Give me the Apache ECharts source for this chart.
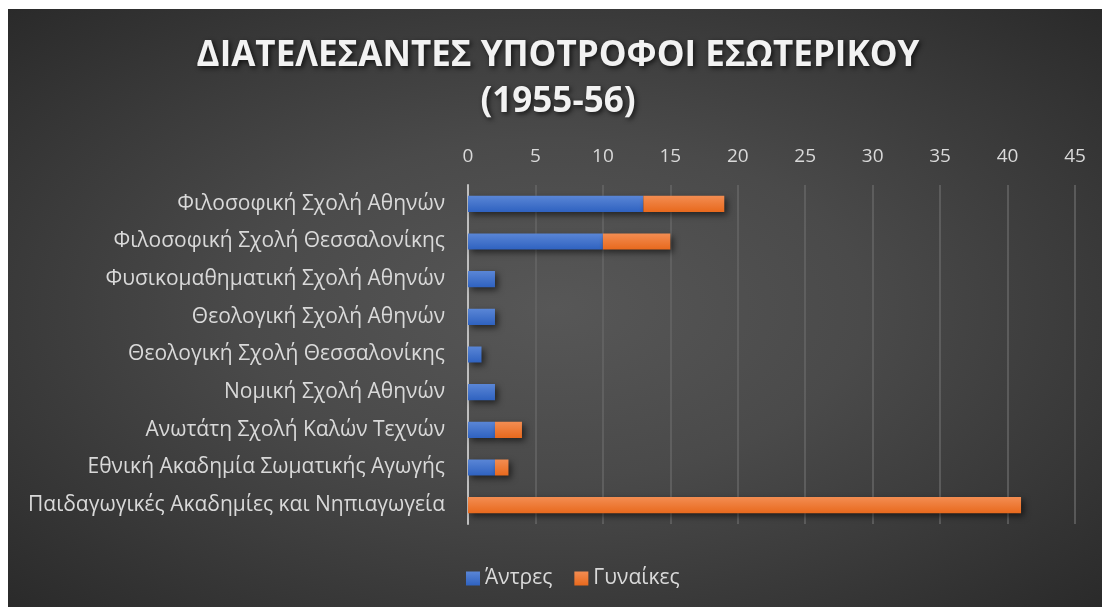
<!DOCTYPE html>
<html>
<head>
<meta charset="utf-8">
<script src="https://cdn.jsdelivr.net/npm/echarts@6/dist/echarts.min.js"></script>
<style>
  html, body { margin: 0; padding: 0; background: #fff; }
  #chart {
    position: absolute; left: 8px; top: 9px; width: 1094px; height: 598px;
    background: radial-gradient(ellipse at 50% 50%, #575757 0%, #4a4a4a 40%, #2a2a2a 100%);
  }
</style>
</head>
<body>
<div id="chart"></div>
<script>
// κατηγορίες (από πάνω προς τα κάτω)
const categories = [
  'Φιλοσοφική Σχολή Αθηνών',
  'Φιλοσοφική Σχολή Θεσσαλονίκης',
  'Φυσικομαθηματική Σχολή Αθηνών',
  'Θεολογική Σχολή Αθηνών',
  'Θεολογική Σχολή Θεσσαλονίκης',
  'Νομική Σχολή Αθηνών',
  'Ανωτάτη Σχολή Καλών Τεχνών',
  'Εθνική Ακαδημία Σωματικής Αγωγής',
  'Παιδαγωγικές Ακαδημίες και Νηπιαγωγεία'
];
const antres = [13, 10, 2, 2, 1, 2, 2, 2, 0];
const gynaikes = [6, 5, 0, 0, 0, 0, 2, 1, 41];

const chart = echarts.init(document.getElementById('chart'));

function grad(top, bottom) {
  return new echarts.graphic.LinearGradient(0, 0, 0, 1, [
    {offset: 0, color: top},
    {offset: 1, color: bottom}
  ]);
}

const barStyle = (top, bottom) => ({
  color: grad(top, bottom),
  shadowColor: 'rgba(0,0,0,0.55)',
  shadowBlur: 6,
  shadowOffsetX: 3,
  shadowOffsetY: 3
});

chart.setOption({
  backgroundColor: 'transparent',
  textStyle: {fontFamily: 'Open Sans'},
  title: {
    text: 'ΔΙΑΤΕΛΕΣΑΝΤΕΣ ΥΠΟΤΡΟΦΟΙ ΕΣΩΤΕΡΙΚΟΥ\n(1955-56)',
    left: 545,
    top: 19,
    textAlign: 'center',
    textStyle: {
      color: '#f2f2f2',
      fontSize: 35,
      fontWeight: 'bold',
      fontFamily: 'Open Sans',
      lineHeight: 46,
      textShadowColor: 'rgba(0,0,0,0.7)',
      textShadowBlur: 5,
      textShadowOffsetX: 2,
      textShadowOffsetY: 2
    }
  },
  legend: {
    bottom: 13,
    left: 453,
    itemWidth: 14,
    itemHeight: 14,
    itemGap: 22,
    icon: 'rect',
    textStyle: {color: '#d9d9d9', fontSize: 21, fontFamily: 'Open Sans'},
    data: ['Άντρες', 'Γυναίκες']
  },
  grid: {left: 460, right: 27, top: 176, bottom: 83, containLabel: false},
  xAxis: {
    type: 'value',
    position: 'top',
    min: 0,
    max: 45,
    interval: 5,
    axisLine: {show: false},
    axisTick: {show: false},
    axisLabel: {color: '#d9d9d9', fontSize: 19, margin: 19},
    splitLine: {lineStyle: {color: '#666666', width: 1.5}}
  },
  yAxis: {
    type: 'category',
    inverse: true,
    data: categories,
    axisLine: {show: true, lineStyle: {color: '#bfbfbf', width: 2}},
    axisTick: {show: false},
    axisLabel: {color: '#d9d9d9', fontSize: 21, margin: 23}
  },
  series: [
    {
      name: 'Άντρες',
      type: 'bar',
      stack: 'total',
      data: antres,
      barWidth: '43%',
      itemStyle: barStyle('#5a86d6', '#2f62c0')
    },
    {
      name: 'Γυναίκες',
      type: 'bar',
      stack: 'total',
      data: gynaikes,
      barWidth: '43%',
      itemStyle: barStyle('#f38d52', '#e8691d')
    }
  ]
});
</script>
</body>
</html>
